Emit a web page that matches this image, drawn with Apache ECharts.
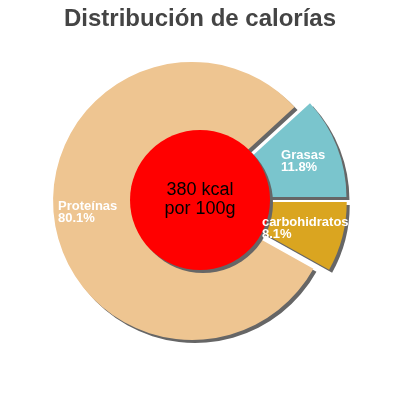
<!DOCTYPE html>
<html><head><meta charset="utf-8">
<script src="https://cdn.jsdelivr.net/npm/echarts@6/dist/echarts.min.js"></script>
<style>html,body{margin:0;padding:0;background:#fff}#c{width:400px;height:400px}</style>
</head><body><div id="c"></div>
<script>
const chartTitle = 'Distribución de calorías';
const categories = ['Grasas', 'carbohidratos', 'Proteínas'];
const percents = [11.8, 8.1, 80.1];
const energyKcal = 380;
const centerLines = [energyKcal + ' kcal', 'por 100g'];

const sliceColors = ['#7AC5CD', '#DAA520', '#EEC591'];
const labelShift = [[6, -9], [-16, 8], [-62, 3]];

const total = percents.reduce((a, b) => a + b, 0);
const startAngle = percents[0] / total * 360;
const shadow = { shadowColor: '#666666', shadowOffsetX: 3, shadowOffsetY: 3, shadowBlur: 0 };

const chart = echarts.init(document.getElementById('c'), null, { renderer: 'canvas' });
chart.setOption({
  animation: false,
  title: {
    text: chartTitle, left: 'center', top: 2,
    textStyle: { fontFamily: 'Liberation Sans, Arial, sans-serif', fontSize: 24, fontWeight: 'bold', color: '#444444' }
  },
  series: [
    {
      type: 'pie',
      center: [200, 200],
      radius: [0, 139],
      startAngle: startAngle,
      clockwise: true,
      selectedMode: 'multiple',
      selectedOffset: 8,
      avoidLabelOverlap: false,
      emphasis: { disabled: true },
      itemStyle: Object.assign({ borderWidth: 0 }, shadow),
      label: {
        show: true, position: 'inside', color: '#ffffff', overflow: 'none',
        fontFamily: 'Liberation Sans, Arial, sans-serif', fontSize: 13, fontWeight: 'bold', lineHeight: 12,
        formatter: p => p.name + '\n' + p.value.toFixed(1) + '%'
      },
      labelLine: { show: false },
      labelLayout: p => ({
        align: 'left', verticalAlign: 'middle',
        dx: labelShift[p.dataIndex][0], dy: labelShift[p.dataIndex][1]
      }),
      data: categories.map((c, i) => ({
        name: c, value: percents[i], selected: true,
        itemStyle: { color: sliceColors[i] }
      }))
    },
    {
      type: 'pie',
      center: [200, 200],
      radius: [0, 70],
      silent: true,
      emphasis: { disabled: true },
      itemStyle: Object.assign({ color: '#FF0000' }, shadow),
      label: {
        show: true, position: 'center', color: '#000000',
        fontFamily: 'Liberation Sans, Arial, sans-serif', fontSize: 18, lineHeight: 19,
        formatter: p => p.name
      },
      labelLine: { show: false },
      data: [{ name: centerLines.join('\n'), value: energyKcal }]
    }
  ]
});
</script></body></html>
